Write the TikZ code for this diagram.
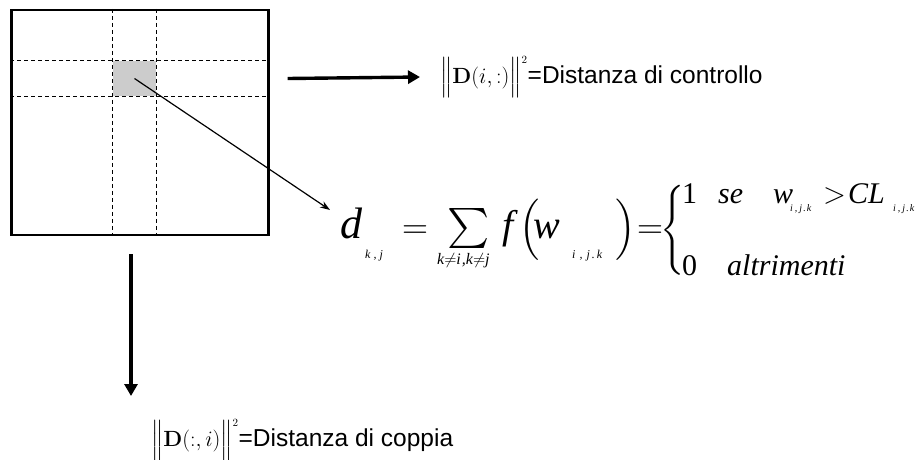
\RequirePackage{fix-cm}
\documentclass[tikz,border=0pt]{standalone}
\usepackage{amsmath,amssymb}
\usepackage[no-math]{fontspec}
\setmainfont{Liberation Sans}
\newfontfamily\eqfont{Liberation Serif}
\usetikzlibrary{arrows.meta,positioning,calc}
\tikzset{
  mx/frame/.style={draw, line width=2.4pt, minimum width=257pt, minimum height=225pt, inner sep=0pt},
  mx/cell/.style={fill=black!20, minimum width=43pt, minimum height=35pt, inner sep=0pt},
  mx/grid/.style={line width=0.8pt, dash pattern=on 4pt off 3pt},
  bigarr/.style={-{Triangle[length=12pt,width=13pt]}, line width=3.4pt},
  thinarr/.style={-{Stealth[length=10pt,width=7pt]}, line width=1.2pt},
  lbl/.style={font=\fontsize{24.5}{30}\selectfont, inner sep=0pt, anchor=west},
  eqn/.style={font=\fontsize{40}{48}\eqfont\itshape, inner sep=0pt, anchor=base west}
}
% fixed-width slot, lowered index, norm label
\newcommand{\fm}[2]{\makebox[#1pt][l]{#2}}
\newcommand{\lo}[3]{\raisebox{-#1pt}{\fontsize{#2}{#2}\selectfont\itshape #3}}
\newcommand{\nrm}[1]{\mbox{\fontsize{22}{26}\selectfont$\Bigl\|\mathbf{D}(#1)\Bigr\|^{\scriptscriptstyle 2}$}}

\begin{document}
\begin{tikzpicture}[x=1pt,y=-1pt]
  \useasboundingbox (0,0) rectangle (917,459);

  % matrix with the selected cell
  \node[mx/frame] (mat) at (140,122.5) {};
  \node[mx/cell] (cell) at (134.5,78.5) {};
  \draw[mx/grid] (mat.west |- cell.north) -- (mat.east |- cell.north);
  \draw[mx/grid] (mat.west |- cell.south) -- (mat.east |- cell.south);
  \draw[mx/grid] (cell.west |- mat.north) -- (cell.west |- mat.south);
  \draw[mx/grid] (cell.east |- mat.north) -- (cell.east |- mat.south);

  \node[lbl] (ctrl) at (440,77) {\nrm{i,:}=Distanza di controllo};
  \node[lbl] (cop) at (151,440) {\nrm{:,i}=Distanza di coppia};

  \node[eqn] (form) at (340,238) {\fm{25}{\fontsize{44}{48}\selectfont d}%
    \fm{37}{\lo{20}{12}{k\hspace{3pt},\hspace{3pt}j}}%
    \fm{35}{\fontsize{36}{40}\selectfont$=$}%
    \fm{65}{\rlap{\hspace{10pt}\fontsize{40}{44}\selectfont$\sum$}\lo{26}{16}{k$\neq$i\hspace{1pt},k$\neq$j}}%
    \fm{17}{f}%
    \fm{14}{\fontsize{34}{40}\selectfont$\Bigl($}%
    \fm{39}{w}%
    \fm{43}{\lo{20}{12}{i\hspace{4pt},\hspace{4pt}j\hspace{2pt}.\hspace{2pt}k}}%
    \fm{22}{\fontsize{34}{40}\selectfont$\Bigr)$}%
    \fm{30}{\fontsize{36}{40}\selectfont$=$}%
    \fm{15}{\hspace{-7pt}\fontsize{30}{36}\selectfont$\left\{\vcenter{\hbox{\rule{0pt}{84pt}}}\right.$}%
    \rlap{\raisebox{35pt}{\fontsize{30}{36}\selectfont\fm{36}{\upshape 1}\fm{55}{se}\fm{17}{w}%
      \fm{33}{\lo{8}{10}{i\hspace{2pt},\hspace{2pt}j\hspace{1pt}.\hspace{1pt}k}}\fm{25}{$>$}\fm{45}{CL}%
      \lo{8}{10}{i\hspace{2pt},\hspace{2pt}j\hspace{1pt}.\hspace{1pt}k}}}%
    \raisebox{-37pt}{\fontsize{30}{36}\selectfont\fm{45}{\upshape 0}altrimenti}};

  \coordinate (c1) at ([xshift=18pt]mat.east |- cell);
  \coordinate (c2) at ([xshift=-9pt,yshift=-18pt]mat.south);

  \draw[bigarr] (c1) -- ([xshift=-20pt]ctrl.west);
  \draw[bigarr] (c2) -- (c2 |- 0,396);
  \draw[thinarr] (cell.center) -- ([xshift=-10pt,yshift=28pt]form.base west);
\end{tikzpicture}
\end{document}
